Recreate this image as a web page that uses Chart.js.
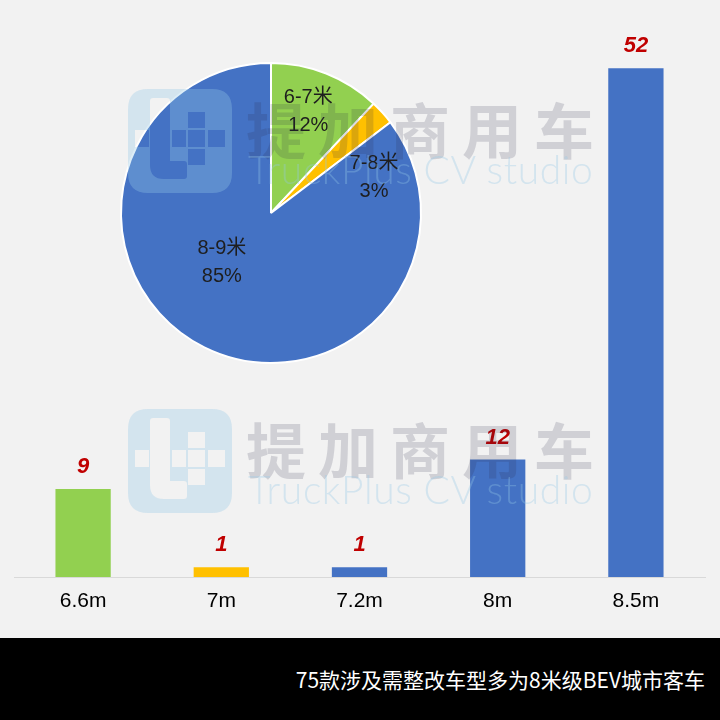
<!DOCTYPE html>
<html><head><meta charset="utf-8">
<script src="https://cdn.jsdelivr.net/npm/chart.js@4/dist/chart.umd.min.js"></script>
<style>
html,body{margin:0;padding:0;background:#f2f2f2;width:720px;height:720px;overflow:hidden;}
#wrap{position:relative;width:720px;height:720px;background:#f2f2f2;}
#bar{position:absolute;left:0;top:0;}
#pie{position:absolute;left:111px;top:53px;}
#footer{position:absolute;left:0;top:638px;width:720px;height:82px;background:#000;}
#footer span{position:absolute;right:15px;top:26px;color:#fff;font:21px "Noto Sans CJK SC",sans-serif;white-space:nowrap;}
.wm{position:absolute;left:128px;width:470px;height:106px;pointer-events:none;z-index:5;}
.wm svg{position:absolute;left:0;top:0;}
.wm .cn{position:absolute;left:118px;top:-5px;font:bold 60px "Noto Sans CJK SC",sans-serif;letter-spacing:12px;color:rgba(40,40,70,0.17);white-space:nowrap;}
.wm .en{position:absolute;left:120px;top:57px;font:300 39px "Lato","Noto Sans",sans-serif;color:rgba(150,200,230,0.33);white-space:nowrap;letter-spacing:0.6px;}
</style></head>
<body><div id="wrap">
<canvas id="bar" width="720" height="638"></canvas>
<canvas id="pie" width="320" height="320"></canvas>
<div class="wm" style="top:89px"><svg width="104" height="104"><path fill="rgba(150,200,230,0.33)" fill-rule="evenodd" d="M20 0H84Q104 0 104 20V84Q104 104 84 104H20Q0 104 0 84V20Q0 0 20 0Z M22 12Q22 9 25 9H39Q42 9 42 12V72H56Q59 72 59 75V87Q59 90 56 90H36Q22 90 22 76Z M7 41H21V58H7Z M44 41H58V58H44Z M60 23H77V39H60Z M60 41H77V58H60Z M80 41H97V58H80Z M60 60H77V76H60Z"/></svg><div class="cn">提加商用车</div><div class="en">TruckPlus CV studio</div></div>
<div class="wm" style="top:409px"><svg width="104" height="104"><path fill="rgba(150,200,230,0.33)" fill-rule="evenodd" d="M20 0H84Q104 0 104 20V84Q104 104 84 104H20Q0 104 0 84V20Q0 0 20 0Z M22 12Q22 9 25 9H39Q42 9 42 12V72H56Q59 72 59 75V87Q59 90 56 90H36Q22 90 22 76Z M7 41H21V58H7Z M44 41H58V58H44Z M60 23H77V39H60Z M60 41H77V58H60Z M80 41H97V58H80Z M60 60H77V76H60Z"/></svg><div class="cn">提加商用车</div><div class="en">TruckPlus CV studio</div></div>
<div id="footer"><span>75款涉及需整改车型多为8米级BEV城市客车</span></div>
</div>
<script>
const categories = ['6.6m', '7m', '7.2m', '8m', '8.5m'];
const counts = [9, 1, 1, 12, 52];
const barColors = ['#92D050', '#FFC000', '#4472C4', '#4472C4', '#4472C4'];
const pieLabels = ['6-7米', '7-8米', '8-9米'];
const pieCounts = [9, 2, 64];
const pieColors = ['#92D050', '#FFC000', '#4472C4'];

const barLabelPlugin = {
  id: 'barLabels',
  afterDatasetsDraw(chart) {
    const ctx = chart.ctx;
    const meta = chart.getDatasetMeta(0);
    ctx.save();
    ctx.fillStyle = '#C00000';
    ctx.font = 'italic bold 22px "Liberation Sans", Arial, sans-serif';
    ctx.textAlign = 'center';
    ctx.textBaseline = 'middle';
    meta.data.forEach((el, i) => {
      ctx.fillText(String(chart.data.datasets[0].data[i]), el.x, el.y - 22);
    });
    ctx.restore();
  }
};

new Chart(document.getElementById('bar'), {
  type: 'bar',
  data: {
    labels: categories,
    datasets: [{ data: counts, backgroundColor: barColors, barPercentage: 0.5, categoryPercentage: 0.8 }]
  },
  options: {
    responsive: false, animation: false,
    layout: { padding: { left: 14, right: 15, top: 29, bottom: 0 } },
    plugins: { legend: { display: false }, tooltip: { enabled: false } },
    scales: {
      x: {
        grid: { display: false, drawTicks: false },
        border: { display: true, color: '#d9d9d9', width: 1 },
        ticks: { color: '#000', padding: 12, font: { family: '"Liberation Sans Narrow", "Liberation Sans", Arial, sans-serif', size: 21 } },
        afterFit(s) { s.height = 61; }
      },
      y: { display: false, min: 0, max: 56 }
    }
  },
  plugins: [barLabelPlugin]
});

// label placement around each slice: angle (deg, clockwise from top) and fraction of radius
const pieLabelPos = [{ a: 20.2, r: 0.72 }, { a: 70.8, r: 0.727 }, { a: 224.7, r: 0.466 }];
const pieLabelPlugin = {
  id: 'pieLabels',
  afterDatasetsDraw(chart) {
    const ctx = chart.ctx;
    const meta = chart.getDatasetMeta(0);
    const data = chart.data.datasets[0].data;
    const total = data.reduce((a, b) => a + b, 0);
    ctx.save();
    ctx.fillStyle = '#1e1e1e';
    ctx.font = '20px "Liberation Sans", "Noto Sans CJK SC", sans-serif';
    ctx.textAlign = 'center';
    ctx.textBaseline = 'middle';
    meta.data.forEach((el, i) => {
      const p = pieLabelPos[i];
      const rad = p.a * Math.PI / 180;
      const x = el.x + p.r * el.outerRadius * Math.sin(rad);
      const y = el.y - p.r * el.outerRadius * Math.cos(rad);
      ctx.fillText(chart.data.labels[i], x, y - 14);
      ctx.fillText(Math.round(data[i] / total * 100) + '%', x, y + 14);
    });
    ctx.restore();
  }
};

new Chart(document.getElementById('pie'), {
  type: 'pie',
  data: { labels: pieLabels, datasets: [{ data: pieCounts, backgroundColor: pieColors, borderColor: '#ffffff', borderWidth: 2, radius: 150 }] },
  options: {
    responsive: false, animation: false,
    plugins: { legend: { display: false }, tooltip: { enabled: false } }
  },
  plugins: [pieLabelPlugin]
});
</script>
</body></html>
